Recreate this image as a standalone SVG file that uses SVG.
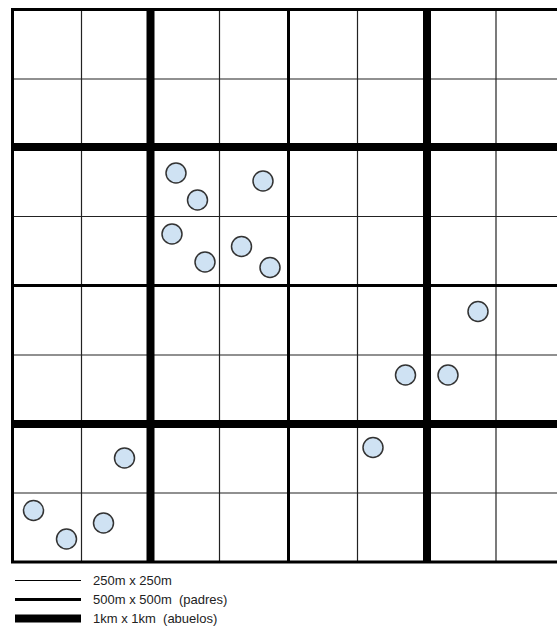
<svg xmlns="http://www.w3.org/2000/svg" width="557" height="630" viewBox="0 0 557 630">
<style>
.thin{stroke:#222;stroke-width:1.2;fill:none}
.med{stroke:#000;stroke-width:3;fill:none}
.thick{stroke:#000;stroke-width:8;fill:none}
.pt{fill:#cfe2f3;stroke:#333;stroke-width:1.5}
.lbl{font-family:"Liberation Sans",Arial,sans-serif;font-size:13px;fill:#222}
</style>
<rect width="557" height="630" fill="#fff"/>
<g id="grid">
<g id="thin-lines" class="thin">
<line x1="81.5" y1="9.5" x2="81.5" y2="562"/>
<line x1="219.5" y1="9.5" x2="219.5" y2="562"/>
<line x1="357.5" y1="9.5" x2="357.5" y2="562"/>
<line x1="496" y1="9.5" x2="496" y2="562"/>
<line x1="12.5" y1="79" x2="557" y2="79"/>
<line x1="12.5" y1="216.5" x2="557" y2="216.5"/>
<line x1="12.5" y1="355" x2="557" y2="355"/>
<line x1="12.5" y1="493" x2="557" y2="493"/>
</g>
<g id="medium-lines" class="med">
<line x1="288.5" y1="9.5" x2="288.5" y2="562"/>
<line x1="12.5" y1="285.5" x2="557" y2="285.5"/>
<line x1="12.5" y1="9.5" x2="12.5" y2="562"/>
<line x1="11" y1="9.5" x2="557" y2="9.5"/>
<line x1="11" y1="562" x2="557" y2="562"/>
</g>
<g id="thick-lines" class="thick">
<line x1="150.5" y1="9.5" x2="150.5" y2="562"/>
<line x1="427" y1="9.5" x2="427" y2="562"/>
<line x1="12.5" y1="147" x2="557" y2="147"/>
<line x1="12.5" y1="424" x2="557" y2="424"/>
</g>
</g>
<g id="points">
<circle id="p1" class="pt" cx="176" cy="173" r="10"/>
<circle id="p2" class="pt" cx="197.5" cy="200" r="10"/>
<circle id="p3" class="pt" cx="263" cy="181" r="10"/>
<circle id="p4" class="pt" cx="172" cy="234" r="10"/>
<circle id="p5" class="pt" cx="205" cy="262" r="10"/>
<circle id="p6" class="pt" cx="241.5" cy="246.5" r="10"/>
<circle id="p7" class="pt" cx="270" cy="267.5" r="10"/>
<circle id="p8" class="pt" cx="478" cy="311.5" r="10"/>
<circle id="p9" class="pt" cx="405.5" cy="375" r="10"/>
<circle id="p10" class="pt" cx="448" cy="375" r="10"/>
<circle id="p11" class="pt" cx="373" cy="447.5" r="10"/>
<circle id="p12" class="pt" cx="124.5" cy="458" r="10"/>
<circle id="p13" class="pt" cx="33.5" cy="510.5" r="10"/>
<circle id="p14" class="pt" cx="66.5" cy="539" r="10"/>
<circle id="p15" class="pt" cx="103.5" cy="523" r="10"/>
</g>
<g id="legend">
<line x1="15" y1="580.5" x2="81" y2="580.5" stroke="#000" stroke-width="1.2"/>
<line x1="15" y1="599.5" x2="81" y2="599.5" stroke="#000" stroke-width="3"/>
<line x1="15" y1="618.5" x2="81" y2="618.5" stroke="#000" stroke-width="8"/>
<text class="lbl" x="93" y="585">250m x 250m</text>
<text class="lbl" x="93" y="604" xml:space="preserve">500m x 500m  (padres)</text>
<text class="lbl" x="93" y="623" xml:space="preserve">1km x 1km  (abuelos)</text>
</g>
</svg>
